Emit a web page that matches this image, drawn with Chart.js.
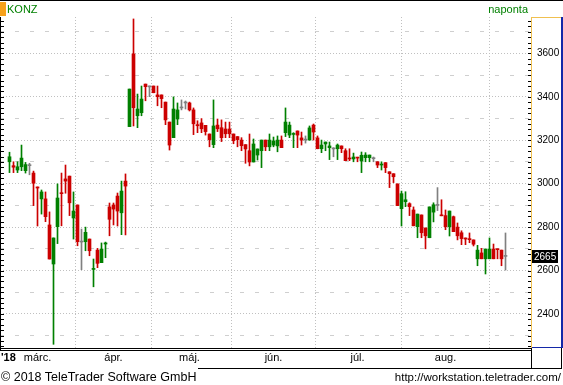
<!DOCTYPE html>
<html>
<head>
<meta charset="utf-8">
<script src="https://cdn.jsdelivr.net/npm/chart.js@4.4.1/dist/chart.umd.min.js"></script>
<style>
  html, body { margin:0; padding:0; background:#fff; }
  #wrap { position:relative; width:563px; height:385px; overflow:hidden; }
  #c { position:absolute; left:0; top:0; }
  .t { position:absolute; font-family:"Liberation Sans", Arial, sans-serif; white-space:nowrap; line-height:13px; }
  .ln { position:absolute; }
</style>
</head>
<body>
<div id="wrap">
  <canvas id="c" width="563" height="385"></canvas>
  <!-- header -->
  <div class="ln" style="left:0;top:0;width:563px;height:1px;background:#000"></div>
  <div class="ln" style="left:0;top:2px;width:6px;height:14px;background:#f7a21b"></div>
  <div class="t" id="sym" style="left:7px;top:3px;font-size:11px;color:#008000">KONZ</div>
  <div class="t" id="per" style="right:35px;top:3px;font-size:11px;color:#008000">naponta</div>
  <!-- frame -->
  <div class="ln" style="left:0;top:17px;width:1px;height:334px;background:#000"></div>
  <div class="ln" style="left:0;top:348px;width:531px;height:1px;background:#000"></div>
  <div class="ln" style="left:0;top:350px;width:531px;height:1px;background:#000"></div>
  <div class="ln" style="left:198px;top:368px;width:364px;height:1px;background:#000"></div>
  <div class="ln" style="left:531px;top:348px;width:1px;height:21px;background:#000"></div>
  <div class="ln" style="left:561px;top:348px;width:1px;height:21px;background:#000"></div>
  <div class="ln" style="left:531px;top:17px;width:1px;height:331px;background:#f0c050"></div>
  <div class="ln" style="left:531px;top:17px;width:30px;height:1px;background:#f0c050"></div>
  <div class="ln" style="left:561px;top:17px;width:2px;height:331px;background:#1428a8"></div>
  <div class="ln" style="left:532px;top:347px;width:30px;height:1px;background:#1428a8"></div>
  <!-- bottom texts -->
  <div class="t" style="left:1px;top:351px;font-size:11px;font-weight:bold;color:#000">'18</div>
  <div class="t" style="left:1px;top:370px;font-size:12.5px;line-height:14px;color:#000">© 2018 TeleTrader Software GmbH</div>
  <div class="t" style="right:2px;top:370px;font-size:11.5px;line-height:14px;color:#000">http://workstation.teletrader.com/</div>
</div>
<script>
// month axis: label and index of the first trading day of each month
const monthLabels = ['márc.', 'ápr.', 'máj.', 'jún.', 'júl.', 'aug.'];
const monthStart  = [7, 26, 45, 66, 87, 109];
const yTicks = [2300, 2400, 2500, 2600, 2700, 2800, 2900, 3000, 3100, 3200, 3300, 3400, 3500, 3600, 3700];

// daily OHLC, 2018-02-20 .. 2018-08-22
const open = [3101,3083,3063,3078,3060,3083,3049,2985,2930,2930,
  2810,2630,2802,2958,3022,3035,2842,2902,2731,2733,
  2745,2605,2694,2636,2722,2893,2902,2943,2866,3012,
  3263,3598,3313,3327,3459,3446,3450,3409,3409,3376,
  3284,3212,3298,3349,3372,3372,3340,3272,3280,3269,
  3229,3180,3270,3258,3252,3252,3229,3217,3201,3180,
  3152,3100,3132,3152,3201,3170,3178,3174,3201,3235,
  3224,3227,3243,3211,3201,3201,3270,3211,3161,3183,
  3166,3160,3161,3174,3152,3118,3114,3122,3105,3120,
  3120,3115,3101,3086,3097,3055,3046,2999,2885,2917,
  2908,2879,2802,2856,2796,2751,2869,2900,2856,2853,
  2802,2848,2800,2774,2750,2747,2741,2654,2681,2654,
  2654,2699,2699,2694,2665];
const high = [3145,3101,3101,3178,3098,3094,3058,2985,2971,2962,
  2870,2750,2999,3049,3086,3035,2962,2902,2791,2800,
  2745,2653,2702,2727,2731,2911,2911,2957,3012,3045,
  3436,3759,3413,3450,3459,3450,3450,3450,3409,3376,
  3284,3400,3372,3386,3381,3376,3349,3290,3300,3269,
  3229,3386,3298,3294,3284,3284,3229,3217,3212,3180,
  3229,3206,3160,3201,3201,3229,3215,3220,3220,3349,
  3284,3235,3243,3238,3220,3266,3275,3220,3201,3192,
  3192,3166,3183,3174,3161,3161,3141,3122,3146,3143,
  3132,3123,3101,3101,3097,3055,3046,2999,2966,2963,
  2912,2893,2860,2856,2796,2893,2912,2982,2926,2879,
  2874,2851,2819,2783,2750,2773,2741,2716,2702,2699,
  2750,2722,2699,2694,2773];
const low = [3051,3051,3051,3060,3049,3041,2899,2805,2860,2825,
  2653,2260,2724,2806,2956,2853,2745,2714,2604,2691,
  2668,2525,2613,2636,2659,2760,2810,2805,2765,2764,
  3263,3266,3258,3313,3382,3401,3419,3359,3350,3272,
  3155,3212,3272,3340,3344,3335,3226,3235,3235,3224,
  3170,3166,3240,3194,3212,3212,3184,3170,3152,3094,
  3082,3100,3109,3074,3152,3152,3170,3147,3166,3217,
  3212,3166,3166,3178,3187,3201,3201,3161,3143,3152,
  3111,3124,3111,3143,3106,3106,3101,3101,3051,3101,
  3101,3101,3074,3063,3051,2982,3005,2899,2805,2894,
  2853,2806,2751,2751,2700,2751,2824,2876,2852,2788,
  2759,2779,2741,2719,2719,2728,2713,2622,2654,2584,
  2654,2654,2654,2622,2602];
const close = [3124,3076,3078,3118,3088,3083,3002,2980,2962,2848,
  2653,2750,2934,2954,3012,2912,2874,2733,2731,2776,
  2691,2609,2633,2699,2727,2836,2883,2874,2966,2989,
  3436,3350,3344,3390,3447,3446,3419,3401,3392,3294,
  3178,3344,3340,3349,3372,3340,3276,3267,3253,3240,
  3203,3266,3253,3212,3230,3230,3198,3203,3175,3160,
  3100,3183,3160,3201,3170,3201,3197,3201,3166,3284,
  3270,3231,3224,3201,3201,3257,3238,3161,3178,3192,
  3174,3160,3178,3161,3106,3114,3123,3118,3131,3132,
  3132,3115,3086,3089,3074,3046,3032,2899,2954,2926,
  2894,2806,2860,2774,2760,2893,2903,2900,2852,2802,
  2874,2779,2760,2747,2745,2742,2721,2694,2654,2699,
  2699,2654,2696,2654,2665];

const UP = '#008000', DOWN = '#cc0000', FLAT = '#808080';
const idx = close.map((_, i) => i);
const colors = idx.map(i => close[i] > open[i] ? UP : (close[i] < open[i] ? DOWN : FLAT));

/* small tick marks inside both plot edges + last price box */
const decor = {
  id: 'decor',
  afterDatasetsDraw(chart){
    const ctx = chart.ctx, ys = chart.scales.y, a = chart.chartArea;
    ctx.save();
    ctx.strokeStyle = '#000';
    ctx.lineWidth = 1;
    ctx.beginPath();
    for(let v = Math.ceil(ys.min/25)*25; v <= ys.max; v += 25){
      const y = Math.round(ys.getPixelForValue(v)) + 0.5;
      ctx.moveTo(a.left + 1, y); ctx.lineTo(a.left + 4, y);
      ctx.moveTo(a.right - 3, y); ctx.lineTo(a.right, y);
    }
    ctx.stroke();
    const last = close[close.length-1];
    const py = Math.round(ys.getPixelForValue(last));
    ctx.fillStyle = '#000';
    ctx.fillRect(a.right + 1, py - 6, 26, 13);
    ctx.fillStyle = '#fff';
    ctx.font = '10px "Liberation Sans", Arial, sans-serif';
    ctx.textBaseline = 'middle';
    ctx.fillText(String(last), a.right + 3, py + 1);
    ctx.restore();
  }
};

Chart.defaults.font.family = '"Liberation Sans", Arial, sans-serif';

new Chart(document.getElementById('c'), {
  type: 'bar',
  data: {
    datasets: [
      { label:'range', data: idx.map(i => ({x:i, y:[low[i], high[i]]})), backgroundColor: colors,
        barThickness: 1, grouped: false, borderWidth: 0, order: 2 },
      { label:'body', data: idx.map(i => ({x:i, y:[open[i], close[i]]})), backgroundColor: colors,
        barThickness: 3, minBarLength: 1, grouped: false, borderWidth: 0, order: 1 }
    ]
  },
  options: {
    responsive: false,
    animation: false,
    devicePixelRatio: 1,
    layout: { padding: { top:17, bottom:17, left:0, right:0 } },
    plugins: { legend:{display:false}, tooltip:{enabled:false} },
    scales: {
      x: {
        type: 'linear', min: -2.375, max: 130.375, offset: false,
        afterBuildTicks: s => { s.ticks = monthStart.map(v => ({value: v})); },
        afterFit: s => { s.height = 20; },
        grid: { color: '#c0c0c0', drawTicks: false },
        border: { display: false, dash: [1, 2] },
        ticks: { padding: 3, maxRotation: 0, autoSkip: false, color: '#000', font: {size: 11},
                 callback: (v, i) => monthLabels[i] }
      },
      y: {
        position: 'right', min: 2243, max: 3768,
        afterBuildTicks: s => { s.ticks = yTicks.map(v => ({value: v})); },
        afterFit: s => { s.width = 32; },
        grid: { color: c => (c.tick && c.tick.value % 200 === 0) ? '#c0c0c0' : '#cfcfcf', drawTicks: false },
        border: { display: false, dash: c => (c.tick && c.tick.value % 200 === 0) ? [1, 2] : [4, 11] },
        ticks: { padding: 6, color: '#000', font: {size: 10},
                 callback: v => (v % 200 === 0 ? String(v) : '') }
      }
    }
  },
  plugins: [decor]
});
</script>
</body>
</html>
